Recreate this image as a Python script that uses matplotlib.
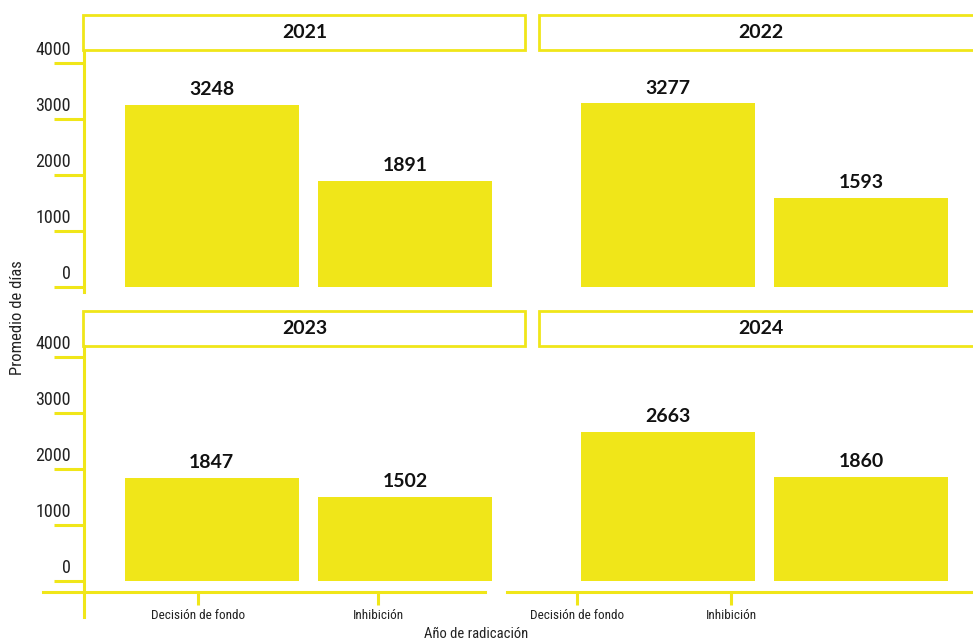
"""Facet bar chart: promedio de días por tipo de decisión y año de radicación."""
import matplotlib
matplotlib.use("Agg")
import matplotlib.pyplot as plt
from matplotlib import font_manager
from matplotlib.patches import Rectangle
from matplotlib.lines import Line2D
from matplotlib.transforms import blended_transform_factory, ScaledTranslation

YEARS = ["2021", "2022", "2023", "2024"]
CATEGORIES = ["Decisión de fondo", "Inhibición"]
VALUES_2021 = [3248, 1891]
VALUES_2022 = [3277, 1593]
VALUES_2023 = [1847, 1502]
VALUES_2024 = [2663, 1860]
Y_TICKS = [0, 1000, 2000, 3000, 4000]
Y_TICK_LABELS = ["0", "1000", "2000", "3000", "4000"]

YELLOW = "#F0E619"
BOLD = ["Lato", "DejaVu Sans"]
W, H = 973, 642


def narrow_font():
    """Pick a condensed regular face if the system has one."""
    prefs = ["Liberation Sans Narrow", "Roboto Condensed", "Noto Sans", "DejaVu Sans",
             "Open Sans"]
    found = []
    for f in font_manager.fontManager.ttflist:
        condensed = ("Narrow" in f.name or "Condensed" in f.name
                     or str(f.stretch) in ("condensed", "semi-condensed", "extra-condensed"))
        if not condensed or f.style != "normal":
            continue
        if str(f.weight) not in ("400", "normal", "regular", "book"):
            continue
        rank = next((k for k, p in enumerate(prefs) if f.name.startswith(p)), len(prefs))
        found.append((rank, f.fname))
    if found:
        return font_manager.FontProperties(fname=sorted(found)[0][1]), True
    return font_manager.FontProperties(family="DejaVu Sans"), False


NARROW, HAS_NARROW = narrow_font()
TICK_SIZE = 13 if HAS_NARROW else 10.5
XLAB_SIZE = 9.5 if HAS_NARROW else 7.5
YTITLE_SIZE = 12 if HAS_NARROW else 10
XTITLE_SIZE = 10.5 if HAS_NARROW else 8.5

# panel boxes in pixels: left, top(axes top)
PANELS = [(84, 52), (540, 52), (84, 346), (540, 346)]
PW, PH = 441, 246
XLIM = (-0.66, 1.62)
YLIM = (-196, 4196)
# x tick spots (the original draws them a bit off the bars)
XTICK_SPOTS = {2: [-0.07, 0.86], 3: [-0.47, 0.33]}

fig = plt.figure(figsize=(W / 100, H / 100), dpi=100)
series = [VALUES_2021, VALUES_2022, VALUES_2023, VALUES_2024]

for i, (year, vals) in enumerate(zip(YEARS, series)):
    left, top = PANELS[i]
    ax = fig.add_axes([left / W, (H - top - PH) / H, PW / W, PH / H])
    ax.set_xlim(*XLIM)
    ax.set_ylim(*YLIM)
    for s in ax.spines.values():
        s.set_visible(False)

    pos = list(range(len(CATEGORIES)))
    ax.bar(pos, vals, width=0.9, color=YELLOW, linewidth=0)
    for x, v in zip(pos, vals):
        ax.annotate(str(v), (x, v), xytext=(0, 5), textcoords="offset points",
                    ha="center", va="bottom", fontsize=14, fontweight="bold",
                    family=BOLD, color="#111111")

    # strip box
    is_top = i < 2
    y0 = 1.008 if is_top else 1.0
    x1 = 1.0 if i % 2 == 0 else 1.06
    ax.add_patch(Rectangle((-0.002, y0), x1 + 0.002, 0.142, transform=ax.transAxes,
                           facecolor="white", edgecolor=YELLOW, linewidth=2,
                           clip_on=False))
    ax.text(0.5, y0 + 0.071, year, transform=ax.transAxes, ha="center", va="center",
            fontsize=14, fontweight="bold", family=BOLD, color="#111111")

    # y axis on left panels
    if i % 2 == 0:
        ax.set_yticks(Y_TICKS, labels=[""] * len(Y_TICKS))
        ax.tick_params(axis="y", length=21.6, width=2.2, color=YELLOW, pad=0)
        ybot = 0.024 if is_top else -0.10
        ax.add_line(Line2D([0, 0], [ybot, 1.0], transform=ax.transAxes, color=YELLOW,
                           linewidth=2.2, clip_on=False))
        trans = blended_transform_factory(ax.transAxes, ax.transData) + \
            ScaledTranslation(-13 / 100, 4 / 100, fig.dpi_scale_trans)
        for t, lab in zip(Y_TICKS, Y_TICK_LABELS):
            ax.text(0, t, lab, transform=trans, ha="right", va="bottom",
                    fontproperties=NARROW, fontsize=TICK_SIZE, color="#222222")
    else:
        ax.set_yticks([])

    # x axis on bottom panels
    if is_top:
        ax.set_xticks([])
    else:
        ax.set_xticks(XTICK_SPOTS[i], labels=CATEGORIES)
        ax.tick_params(axis="x", length=9.4, width=2.2, color=YELLOW, pad=2.5)
        for lab in ax.get_xticklabels():
            lab.set_fontproperties(NARROW)
            lab.set_fontsize(XLAB_SIZE)
            lab.set_color("#222222")
        xs = [-0.093, 0.909] if i == 2 else [-0.075, 1.1]
        ax.add_line(Line2D(xs, [0, 0], transform=ax.transAxes, color=YELLOW,
                           linewidth=2.2, clip_on=False))

fig.text(18 / W, 1 - 318 / H, "Promedio de días", rotation=90, ha="center", va="center",
         fontproperties=NARROW, fontsize=YTITLE_SIZE, color="#222222")
fig.text(476 / W, 1 - 634 / H, "Año de radicación", ha="center", va="center",
         fontproperties=NARROW, fontsize=XTITLE_SIZE, color="#222222")

fig.savefig("out.png", dpi=100, facecolor="white")
